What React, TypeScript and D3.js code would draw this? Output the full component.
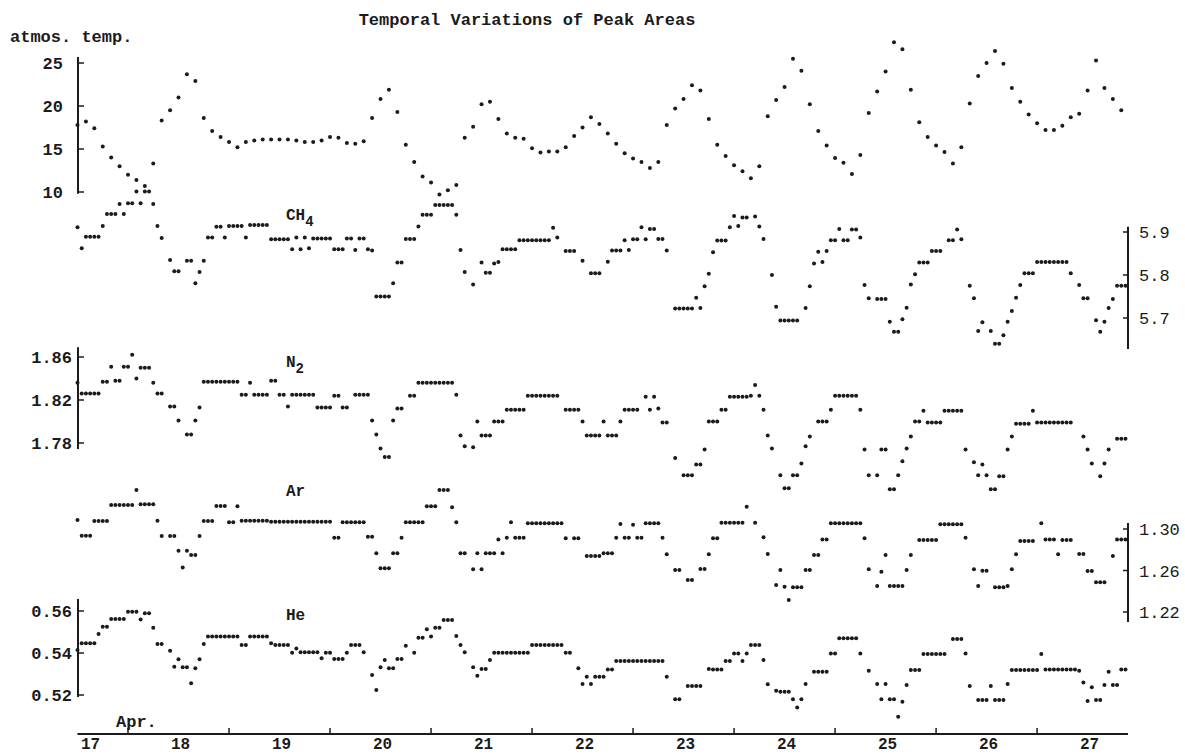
import React from "react";
import * as d3 from "d3";

const W = 1185;
const H = 755;

// time axis: days of April
const dayLabels = [17, 18, 19, 20, 21, 22, 23, 24, 25, 26, 27];
const noonTicks = [17.5, 18.5, 19.5, 20.5, 21.5, 22.5, 23.5, 24.5, 25.5, 26.5];
const startDay = 17;
const tempStepHours = 2;
const gasStepHours = 1;

// atmospheric temperature, every 2 h from Apr 17 00:00
const tempValues = [
  17.8, 18.2, 17.4, 15.3, 14.0, 13.0, 12.0, 11.4, 10.7, 13.3,
  18.3, 19.5, 21.0, 23.7, 22.9, 18.6, 17.1, 16.4, 15.8, 15.2,
  15.8, 16.0, 16.1, 16.1, 16.1, 16.1, 16.0, 15.8, 15.8, 16.0,
  16.4, 16.3, 15.7, 15.6, 15.9, 18.6, 20.8, 21.9, 19.3, 15.5,
  13.5, 11.8, 11.1, 9.7, 10.2, 10.8, 16.3, 17.6, 20.2, 20.5,
  18.5, 16.8, 16.3, 16.2, 15.1, 14.6, 14.7, 14.7, 15.2, 16.5,
  17.5, 18.7, 17.9, 16.8, 15.6, 14.5, 13.9, 13.5, 12.8, 13.5,
  17.8, 19.7, 20.8, 22.4, 21.8, 18.5, 15.5, 14.2, 13.1, 12.4,
  11.6, 13.0, 18.8, 20.7, 22.2, 25.5, 24.1, 20.2, 17.1, 15.4,
  13.95, 13.4, 12.1, 14.3, 19.2, 21.7, 24.0, 27.4, 26.6, 21.9,
  18.1, 16.4, 15.4, 14.65, 13.3, 15.2, 20.3, 23.5, 25.0, 26.4,
  24.9, 22.1, 20.5, 19.0, 18.0, 17.2, 17.2, 17.7, 18.7, 19.1,
  21.8, 25.3, 22.1, 20.8, 19.5,
];

// hourly peak areas from Apr 17 00:00 (null = no point)
const ch4Values = [
  5.911, 5.862, 5.889, 5.889, 5.889, 5.889, 5.914, 5.942, 5.942, 5.942,
  5.965, 5.942, 5.967, 5.967, 5.994, 5.967, 5.994, 5.994, 5.965, 5.914,
  5.886, null, 5.835, 5.809, 5.809, null, 5.833, 5.833, 5.781, 5.807,
  5.833, 5.887, 5.887, 5.912, 5.912, 5.887, 5.914, 5.914, 5.914, 5.914,
  5.887, 5.916, 5.916, 5.916, 5.916, 5.916, 5.883, 5.883, 5.883, 5.883,
  5.883, 5.860, 5.887, 5.860, 5.887, 5.862, 5.885, 5.885, 5.885, 5.885,
  5.885, 5.860, 5.860, 5.860, 5.885, 5.885, 5.858, 5.885, 5.885, 5.860,
  5.857, 5.750, 5.750, 5.750, 5.750, 5.781, 5.829, 5.829, 5.884, 5.884,
  5.884, 5.913, 5.940, 5.940, 5.940, 5.963, 5.963, 5.963, 5.963, 5.963,
  5.940, 5.858, 5.807, null, 5.778, null, 5.829, 5.805, 5.805, 5.827,
  5.830, 5.860, 5.860, 5.860, 5.860, 5.881, 5.881, 5.881, 5.881, 5.881,
  5.881, 5.881, 5.881, 5.910, 5.887, null, 5.856, 5.856, 5.856, null,
  5.833, null, 5.804, 5.804, 5.804, null, 5.831, 5.857, 5.857, 5.857,
  5.881, 5.858, 5.883, 5.883, 5.911, 5.883, 5.907, 5.907, 5.884, 5.884,
  5.857, null, 5.722, 5.722, 5.722, 5.722, 5.722, 5.747, 5.723, 5.774,
  5.803, 5.853, 5.880, 5.880, 5.880, 5.911, 5.937, 5.914, 5.934, 5.934,
  null, 5.936, 5.913, 5.884, null, 5.800, 5.726, 5.694, 5.694, 5.694,
  5.694, 5.694, null, 5.723, 5.774, 5.827, 5.854, 5.830, 5.856, 5.881,
  5.881, 5.907, 5.881, 5.881, 5.906, 5.906, 5.887, 5.777, 5.746, null,
  5.744, 5.744, 5.744, 5.691, 5.668, 5.668, 5.697, 5.724, 5.778, 5.802,
  5.829, 5.829, 5.829, 5.856, 5.856, 5.856, null, 5.881, 5.881, 5.906,
  5.883, null, 5.775, 5.746, 5.670, 5.690, null, 5.670, 5.640, 5.640,
  5.660, 5.691, 5.716, 5.747, 5.777, 5.804, 5.804, 5.804, 5.830, 5.830,
  5.830, 5.830, 5.830, 5.830, 5.830, 5.830, 5.804, null, 5.777, 5.746,
  5.746, null, 5.695, 5.668, 5.691, 5.723, 5.744, 5.775, 5.775, 5.775,
];

const n2Values = [
  1.836, 1.826, 1.826, 1.826, 1.826, 1.826, 1.837, 1.837, 1.851, 1.838,
  1.838, 1.851, 1.851, 1.862, 1.840, 1.850, 1.850, 1.850, 1.836, 1.826,
  1.826, null, 1.814, 1.814, 1.801, null, 1.788, 1.788, 1.801, 1.813,
  1.837, 1.837, 1.837, 1.837, 1.837, 1.837, 1.837, 1.837, 1.837, 1.825,
  1.825, 1.836, 1.825, 1.825, 1.825, 1.825, 1.838, 1.838, 1.825, 1.825,
  1.814, 1.825, 1.825, 1.825, 1.825, 1.825, 1.825, 1.813, 1.813, 1.813,
  1.813, 1.824, 1.824, 1.813, 1.813, null, 1.825, 1.825, 1.825, 1.825,
  1.801, 1.788, 1.775, 1.767, 1.767, 1.801, 1.812, 1.812, null, 1.824,
  1.824, 1.836, 1.836, 1.836, 1.836, 1.836, 1.836, 1.836, 1.836, 1.836,
  1.825, 1.787, 1.777, null, 1.776, 1.800, 1.787, 1.787, 1.787, 1.800,
  1.800, 1.800, 1.811, 1.811, 1.811, 1.811, 1.811, 1.824, 1.824, 1.824,
  1.824, 1.824, 1.824, 1.824, 1.824, null, 1.811, 1.811, 1.811, 1.811,
  1.800, 1.787, 1.787, 1.787, 1.787, 1.800, 1.787, 1.787, 1.787, 1.800,
  1.811, 1.811, 1.811, 1.811, null, 1.823, 1.811, 1.823, 1.812, 1.799,
  1.799, null, 1.766, null, 1.750, 1.750, 1.750, 1.760, 1.760, 1.774,
  1.800, 1.800, 1.800, 1.811, 1.811, 1.823, 1.823, 1.823, 1.823, 1.823,
  1.824, 1.834, 1.824, 1.811, 1.787, 1.775, null, 1.750, 1.738, 1.738,
  1.750, 1.750, 1.761, 1.777, 1.786, null, 1.800, 1.800, 1.800, 1.811,
  1.824, 1.824, 1.824, 1.824, 1.824, 1.824, 1.811, 1.774, 1.750, null,
  1.750, 1.774, 1.774, 1.737, 1.737, 1.750, 1.763, 1.775, 1.786, 1.800,
  1.800, 1.810, 1.799, 1.799, 1.799, 1.799, 1.810, 1.810, 1.810, 1.810,
  1.810, 1.774, null, 1.762, 1.750, 1.760, 1.750, 1.737, 1.737, 1.749,
  1.749, 1.774, 1.786, 1.798, 1.798, 1.798, 1.798, 1.810, 1.799, 1.799,
  1.799, 1.799, 1.799, 1.799, 1.799, 1.799, 1.799, null, null, 1.786,
  1.774, 1.761, null, 1.749, 1.761, 1.774, null, 1.784, 1.784, 1.784,
];

const arValues = [
  1.3087, 1.2935, 1.2935, 1.2935, 1.3077, 1.3077, 1.3077, 1.3077, 1.3231, 1.3231,
  1.3231, 1.3231, 1.3231, 1.3231, 1.3376, 1.3238, 1.3238, 1.3238, 1.3238, 1.308,
  1.2932, null, 1.2932, 1.2932, 1.279, 1.263, 1.279, 1.275, 1.275, 1.2932,
  1.3077, 1.3077, 1.3077, 1.3222, 1.3222, 1.3222, 1.3065, 1.3065, 1.322, 1.308,
  1.308, 1.308, 1.308, 1.308, 1.308, 1.308, 1.307, 1.307, 1.307, 1.307,
  1.307, 1.307, 1.307, 1.307, 1.307, 1.307, 1.307, 1.307, 1.307, 1.307,
  1.307, 1.2916, 1.2916, 1.3065, 1.3065, 1.3065, 1.3065, 1.3065, 1.3065, 1.2926,
  1.2926, 1.2766, 1.2621, 1.2621, 1.2621, 1.2766, 1.2766, 1.2916, 1.3065, 1.3065,
  1.3065, 1.3065, 1.3065, 1.322, 1.322, 1.322, 1.3376, 1.3376, 1.3376, 1.321,
  1.3065, 1.2766, 1.2766, null, 1.2611, 1.2766, 1.2611, 1.2766, 1.2766, 1.2766,
  1.290, 1.2766, 1.2916, 1.3065, 1.2916, 1.2916, 1.2916, 1.3055, 1.3055, 1.3055,
  1.3055, 1.3055, 1.3055, 1.3055, 1.3055, 1.3055, 1.291, null, 1.291, 1.291,
  null, 1.274, 1.274, 1.274, 1.274, 1.2766, 1.2766, 1.2766, 1.2916, 1.3048,
  1.2916, 1.2916, 1.304, 1.2916, 1.2916, 1.3055, 1.3055, 1.3055, 1.3055, 1.2916,
  1.2756, null, 1.2605, 1.2605, null, 1.2508, 1.2508, null, 1.2614, 1.2614,
  1.2756, 1.291, 1.291, 1.306, 1.306, 1.306, 1.306, 1.306, 1.306, 1.3215,
  null, 1.306, null, 1.292, 1.2759, null, 1.246, 1.2605, 1.2444, 1.2315,
  1.2438, 1.2438, 1.2438, 1.2605, 1.2605, 1.275, 1.275, 1.290, 1.290, 1.3055,
  1.3055, 1.3055, 1.3055, 1.3055, 1.3055, 1.3055, 1.3055, 1.291, 1.2611, null,
  1.245, 1.2588, 1.275, 1.245, 1.245, 1.245, 1.245, 1.2605, 1.275, null,
  1.2894, 1.2894, 1.2894, 1.2894, 1.2894, 1.3045, 1.3045, 1.3045, 1.3045, 1.3045,
  1.3045, 1.2916, null, 1.2611, 1.245, 1.2598, 1.2598, null, 1.2438, 1.2438,
  1.2438, 1.245, 1.2611, 1.2756, 1.2884, 1.2884, 1.2884, 1.2884, null, 1.3055,
  1.290, 1.290, 1.290, 1.2756, 1.2894, 1.2894, 1.2894, null, 1.2759, 1.2759,
  1.2595, 1.2595, 1.2486, 1.2486, 1.2486, null, 1.274, 1.290, 1.290, 1.290,
];

const heValues = [
  0.5414, 0.5446, 0.5446, 0.5446, 0.5446, 0.549, 0.5525, 0.5525, 0.5562, 0.5562,
  0.5562, 0.5562, 0.5597, 0.5597, 0.5597, 0.556, 0.5589, 0.5589, 0.552, 0.5443,
  0.5443, null, 0.5411, 0.5335, 0.537, 0.5332, 0.5332, 0.5256, 0.5327, 0.537,
  0.5443, 0.5478, 0.5478, 0.5478, 0.5478, 0.5478, 0.5478, 0.5478, 0.5478, 0.5438,
  0.5438, 0.5478, 0.5478, 0.5478, 0.5478, 0.5478, 0.5446, 0.5438, 0.5438, 0.5438,
  0.5438, 0.5401, 0.5422, 0.5403, 0.5403, 0.5403, 0.5403, 0.5403, 0.5375, 0.5401,
  0.5401, 0.5371, 0.5371, 0.5371, 0.5401, 0.5438, 0.5438, 0.5438, 0.5403, null,
  0.5295, 0.5224, 0.5332, 0.5367, 0.5327, 0.5327, 0.5371, 0.5371, 0.5434, null,
  0.5401, 0.5473, 0.5473, 0.5513, 0.5478, 0.552, 0.552, 0.5557, 0.5557, 0.5557,
  0.5481, 0.5438, 0.5403, null, 0.5332, 0.5292, 0.5324, 0.5324, 0.5367, 0.5401,
  0.5401, 0.5401, 0.5401, 0.5401, 0.5401, 0.5401, 0.5401, 0.5401, 0.5438, 0.5438,
  0.5438, 0.5438, 0.5438, 0.5438, 0.5438, 0.5438, 0.5401, 0.5401, null, 0.5327,
  0.5252, 0.5287, 0.5252, 0.5287, 0.5287, 0.5287, 0.5322, 0.5322, 0.5362, 0.5362,
  0.5362, 0.5362, 0.5362, 0.5362, 0.5362, 0.5362, 0.5362, 0.5362, 0.5362, 0.5362,
  0.5287, null, 0.518, 0.518, null, 0.5243, 0.5243, 0.5243, 0.5243, null,
  0.5324, 0.5322, 0.5322, 0.5322, 0.5362, 0.5362, 0.5398, 0.5398, 0.5362, 0.5398,
  0.5438, 0.5438, 0.5438, 0.5367, 0.5251, null, 0.522, 0.5216, 0.5216, 0.5216,
  0.518, 0.5141, 0.518, 0.5252, null, 0.5311, 0.5311, 0.5311, 0.5311, 0.5398,
  0.5398, 0.547, 0.547, 0.547, 0.547, 0.547, 0.5398, null, 0.5316, null,
  0.5252, 0.518, 0.5252, 0.518, 0.518, 0.5097, 0.5168, 0.5248, 0.5319, 0.5319,
  0.5319, 0.5395, 0.5395, 0.5395, 0.5395, 0.5395, 0.5395, null, 0.5467, 0.5467,
  0.5467, 0.5398, 0.5243, null, 0.5176, 0.5176, 0.5176, 0.5243, 0.5176, 0.5176,
  0.5176, 0.5252, 0.5319, 0.5319, 0.5319, 0.5319, 0.5319, 0.5319, 0.5319, 0.5395,
  0.5322, 0.5322, 0.5322, 0.5322, 0.5322, 0.5322, 0.5322, 0.5322, 0.5316, 0.5259,
  0.5171, 0.5237, 0.5176, 0.5176, 0.5248, 0.5311, 0.5248, 0.5248, 0.5322, 0.5322,
];

// axis ticks
const tempTicks = [10, 15, 20, 25];
const ch4Ticks = [5.7, 5.8, 5.9];
const n2Ticks = [1.78, 1.82, 1.86];
const arTicks = [1.22, 1.26, 1.3];
const heTicks = [0.52, 0.54, 0.56];

const FONT = "'Liberation Mono', 'DejaVu Sans Mono', monospace";
const INK = "#1b1b1b";

type Pt = { t: number; v: number };

function toPoints(values: (number | null)[], stepHours: number): Pt[] {
  const pts: Pt[] = [];
  values.forEach((v, i) => {
    if (v !== null && v !== undefined) pts.push({ t: startDay + (i * stepHours) / 24, v });
  });
  return pts;
}

export default function App() {
  const x = d3.scaleLinear().domain([17, 27.4]).range([77.5, 1128]);

  const yTemp = d3.scaleLinear().domain([10, 25]).range([192, 63]);
  const yCh4 = d3.scaleLinear().domain([5.7, 5.9]).range([318, 232]);
  const yN2 = d3.scaleLinear().domain([1.78, 1.86]).range([443, 357]);
  const yAr = d3.scaleLinear().domain([1.22, 1.3]).range([612, 529]);
  const yHe = d3.scaleLinear().domain([0.52, 0.56]).range([695, 611]);

  const series = [
    { key: "temp", pts: toPoints(tempValues, tempStepHours), y: yTemp },
    { key: "ch4", pts: toPoints(ch4Values, gasStepHours), y: yCh4 },
    { key: "n2", pts: toPoints(n2Values, gasStepHours), y: yN2 },
    { key: "ar", pts: toPoints(arValues, gasStepHours), y: yAr },
    { key: "he", pts: toPoints(heValues, gasStepHours), y: yHe },
  ];

  const leftAxes = [
    { key: "temp", y: yTemp, ticks: tempTicks, ext: [9.8, 25.7], fmt: (v: number) => String(v), labelX: 63 },
    { key: "n2", y: yN2, ticks: n2Ticks, ext: [1.7744, 1.869], fmt: d3.format(".2f"), labelX: 72 },
    { key: "he", y: yHe, ticks: heTicks, ext: [0.519, 0.5657], fmt: d3.format(".2f"), labelX: 72 },
  ];
  const rightAxes = [
    { key: "ch4", y: yCh4, ticks: ch4Ticks, ext: [5.628, 5.912], fmt: d3.format(".1f") },
    { key: "ar", y: yAr, ticks: arTicks, ext: [1.2103, 1.3058], fmt: d3.format(".2f") },
  ];

  const axisX0 = x(17);
  const axisX1 = x(27.4);
  const baseY = 734;

  return (
    <svg
      width={W}
      height={H}
      viewBox={`0 0 ${W} ${H}`}
      style={{ position: "absolute", left: 0, top: 0, background: "#fff" }}
    >
      <rect x={0} y={0} width={W} height={H} fill="#fff" />
      <text x={527} y={25} textAnchor="middle" fontFamily={FONT} fontWeight="bold" fontSize={17} fill={INK}>
        Temporal Variations of Peak Areas
      </text>
      <text x={10} y={42} fontFamily={FONT} fontWeight="bold" fontSize={17} fill={INK}>
        atmos. temp.
      </text>

      {/* left axes */}
      {leftAxes.map((a) => (
        <g key={a.key}>
          <line x1={78} x2={78} y1={a.y(a.ext[1])} y2={a.y(a.ext[0])} stroke={INK} strokeWidth={2} />
          {a.ticks.map((t) => (
            <g key={t}>
              <line x1={78} x2={84} y1={a.y(t)} y2={a.y(t)} stroke={INK} strokeWidth={1.5} />
              <text x={a.labelX} y={a.y(t) + 6} textAnchor="end" fontFamily={FONT} fontWeight="bold" fontSize={17} fill={INK}>
                {a.fmt(t)}
              </text>
            </g>
          ))}
        </g>
      ))}

      {/* right axes */}
      {rightAxes.map((a) => (
        <g key={a.key}>
          <line x1={1128} x2={1128} y1={a.y(a.ext[1])} y2={a.y(a.ext[0])} stroke={INK} strokeWidth={2} />
          {a.ticks.map((t) => (
            <g key={t}>
              <line x1={1123} x2={1128} y1={a.y(t)} y2={a.y(t)} stroke={INK} strokeWidth={1.5} />
              <text x={1139} y={a.y(t) + 6} fontFamily={FONT} fontSize={17} fill={INK}>
                {a.fmt(t)}
              </text>
            </g>
          ))}
        </g>
      ))}

      {/* bottom axis */}
      <line x1={axisX0} x2={axisX1} y1={baseY} y2={baseY} stroke={INK} strokeWidth={2} />
      {noonTicks.map((t) => (
        <line key={t} x1={x(t)} x2={x(t)} y1={baseY} y2={baseY - 6} stroke={INK} strokeWidth={1.5} />
      ))}
      {dayLabels.map((d) => (
        <text key={d} x={x(d) + (d === 17 ? 13 : 2)} y={749} textAnchor="middle" fontFamily={FONT} fontWeight="bold" fontSize={16} fill={INK}>
          {d}
        </text>
      ))}
      <text x={116} y={727} fontFamily={FONT} fontWeight="bold" fontSize={17} fill={INK}>
        Apr.
      </text>

      {/* series labels */}
      <text x={286} y={220} fontFamily={FONT} fontWeight="bold" fontSize={16} fill={INK}>
        CH<tspan dy={6} fontSize={14}>4</tspan>
      </text>
      <text x={286} y={367} fontFamily={FONT} fontWeight="bold" fontSize={16} fill={INK}>
        N<tspan dy={6} fontSize={14}>2</tspan>
      </text>
      <text x={286} y={496} fontFamily={FONT} fontWeight="bold" fontSize={16} fill={INK}>
        Ar
      </text>
      <text x={286} y={620} fontFamily={FONT} fontWeight="bold" fontSize={16} fill={INK}>
        He
      </text>

      {/* dots */}
      {series.map((s) => (
        <g key={s.key} fill={INK}>
          {s.pts.map((p, i) => (
            <circle key={i} cx={x(p.t)} cy={s.y(p.v)} r={2} />
          ))}
        </g>
      ))}
    </svg>
  );
}
